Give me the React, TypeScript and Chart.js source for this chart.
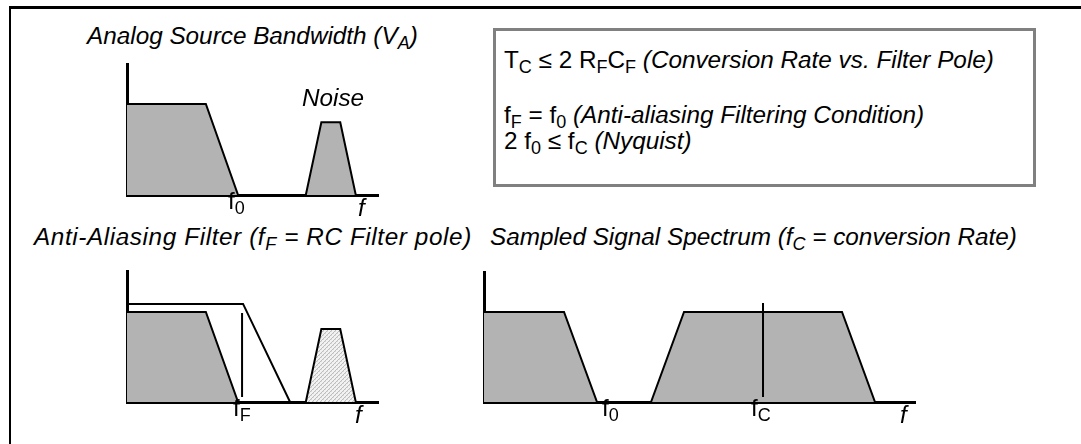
import React, { useEffect, useRef } from "react";
import { Chart, registerables } from "chart.js";

Chart.register(...registerables);

// ---------------- data (x in multiples of f0, y relative to signal amplitude) ----------------
// Panel 1 – Analog source bandwidth
const sourceSignalX = [0, 0.71, 1];
const sourceSignalY = [1, 1, 0];
const sourceNoiseX = [1.61, 1.75, 1.92, 2.06];
const sourceNoiseY = [0, 0.8, 0.8, 0];
const sourceAxisMax = [2.26, 1.44];

// Panel 2 – Anti-aliasing filter
const filterResponseX = [0, 1.045, 1.468];
const filterResponseY = [1.09, 1.09, 0];
const filteredSignalX = [0, 0.71, 1];
const filteredSignalY = [1, 1, 0];
const filterPoleX = [1.036, 1.036];
const filterPoleY = [0.99, 0.056];
const filteredNoiseX = [1.61, 1.75, 1.92, 2.06];
const filteredNoiseY = [0, 0.81, 0.81, 0];
const filterAxisMax = [2.26, 1.456];

// Panel 3 – Sampled signal spectrum
const sampledBaseX = [0, 0.708, 1];
const sampledBaseY = [1, 1, 0];
const sampledImageX = [1.478, 1.77, 3.168, 3.46];
const sampledImageY = [0, 1, 1, 0];
const conversionRateX = [2.469, 2.469];
const conversionRateY = [1.1, 0.056];
const sampledAxisMax = [3.814, 1.444];

// ---------------- helpers ----------------
const FONT = '"Liberation Sans", Arial, Helvetica, sans-serif';
const FONT_SIZE = 24.3;
const FILL = "#b3b3b3";
const PAD = 12;

type Kind = "fill" | "hatch" | "line";
type Series = { xs: number[]; ys: number[]; kind: Kind };

const pts = (xs: number[], ys: number[]) => xs.map((x, i) => ({ x, y: ys[i] }));

function makeHatch(): CanvasPattern | string {
  const c = document.createElement("canvas");
  c.width = 4;
  c.height = 4;
  const g = c.getContext("2d");
  if (!g) return "#d8d8d8";
  g.fillStyle = "#f2f2f2";
  g.fillRect(0, 0, 4, 4);
  g.fillStyle = "#bdbdbd";
  for (let i = 0; i < 4; i++) g.fillRect(i, 3 - i, 1, 1);
  g.fillStyle = "#dadada";
  g.fillRect(0, 0, 1, 1);
  g.fillRect(2, 2, 1, 1);
  return g.createPattern(c, "repeat") || "#d8d8d8";
}

function Panel(props: {
  left: number;
  top: number;
  width: number;
  height: number;
  axisMax: number[];
  series: Series[];
}) {
  const ref = useRef<HTMLCanvasElement>(null);
  const { left, top, width, height, axisMax, series } = props;
  useEffect(() => {
    if (!ref.current) return;
    const hatch = makeHatch();
    const chart = new Chart(ref.current, {
      type: "scatter",
      data: {
        datasets: series.map((s) => ({
          data: pts(s.xs, s.ys),
          showLine: true,
          tension: 0,
          borderColor: "#000",
          borderWidth: 2,
          borderJoinStyle: "miter" as const,
          backgroundColor: s.kind === "hatch" ? hatch : FILL,
          fill: s.kind === "line" ? false : "origin",
          pointRadius: 0,
          pointHoverRadius: 0,
          order: s.kind === "line" ? 0 : 1,
        })),
      },
      options: {
        responsive: false,
        animation: false,
        events: [],
        layout: { padding: PAD },
        plugins: {
          legend: { display: false },
          tooltip: { enabled: false },
          title: { display: false },
        },
        scales: {
          x: {
            type: "linear",
            min: 0,
            max: axisMax[0],
            z: 1,
            grid: { display: false, drawTicks: false },
            ticks: { display: false },
            border: { display: true, width: 3, color: "#000" },
          },
          y: {
            type: "linear",
            min: 0,
            max: axisMax[1],
            z: 1,
            grid: { display: false, drawTicks: false },
            ticks: { display: false },
            border: { display: true, width: 3, color: "#000" },
          },
        },
      },
    });
    return () => chart.destroy();
  }, []);
  return (
    <canvas
      ref={ref}
      width={width + 2 * PAD}
      height={height + 2 * PAD}
      style={{
        position: "absolute",
        left: left - PAD,
        top: top - PAD,
        width: width + 2 * PAD,
        height: height + 2 * PAD,
      }}
    />
  );
}

function Txt(props: {
  x: number;
  baseline: number;
  italic?: boolean;
  spacing?: number;
  children: React.ReactNode;
}) {
  return (
    <div
      style={{
        position: "absolute",
        left: props.x,
        top: props.baseline - 0.8465 * FONT_SIZE,
        fontFamily: FONT,
        fontSize: FONT_SIZE,
        fontStyle: props.italic ? "italic" : "normal",
        lineHeight: `${FONT_SIZE}px`,
        letterSpacing: props.spacing ? `${props.spacing}px` : "normal",
        whiteSpace: "nowrap",
        color: "#000",
      }}
    >
      {props.children}
    </div>
  );
}

function Sub(props: { children: React.ReactNode }) {
  return (
    <span style={{ fontSize: 18, lineHeight: "18px", verticalAlign: "-5px" }}>{props.children}</span>
  );
}

export default function App() {
  return (
    <div
      style={{
        position: "absolute",
        left: 0,
        top: 0,
        width: 1081,
        height: 444,
        overflow: "hidden",
        background: "#fff",
      }}
    >
      {/* outer frame */}
      <div
        style={{
          position: "absolute",
          left: 9,
          top: 6,
          width: 1100,
          height: 460,
          borderLeft: "2px solid #000",
          borderTop: "3px solid #000",
        }}
      />

      {/* Panel 1 */}
      <Txt x={87} baseline={45} italic>
        Analog Source Bandwidth (V<Sub>A</Sub>)
      </Txt>
      <Panel
        left={127}
        top={64}
        width={251}
        height={131}
        axisMax={sourceAxisMax}
        series={[
          { xs: sourceSignalX, ys: sourceSignalY, kind: "fill" },
          { xs: sourceNoiseX, ys: sourceNoiseY, kind: "fill" },
        ]}
      />
      <Txt x={302} baseline={107} italic>
        Noise
      </Txt>
      <Txt x={228} baseline={210}>
        f<Sub>0</Sub>
      </Txt>
      <Txt x={358} baseline={217} italic>
        f
      </Txt>

      {/* Conditions box */}
      <div
        style={{
          position: "absolute",
          left: 493,
          top: 28,
          width: 537,
          height: 153,
          border: "3px solid #808080",
        }}
      />
      <Txt x={504} baseline={69}>
        T<Sub>C</Sub> ≤ 2 R<Sub>F</Sub>C<Sub>F</Sub> <i>(Conversion Rate vs. Filter Pole)</i>
      </Txt>
      <Txt x={504} baseline={124}>
        f<Sub>F</Sub> = f<Sub>0</Sub> <i>(Anti-aliasing Filtering Condition)</i>
      </Txt>
      <Txt x={504} baseline={150}>
        2 f<Sub>0</Sub> ≤ f<Sub>C</Sub> <i>(Nyquist)</i>
      </Txt>

      {/* Panel 2 */}
      <Txt x={34} baseline={246} italic spacing={0.6}>
        Anti-Aliasing Filter (f<Sub>F</Sub> = RC Filter pole)
      </Txt>
      <Panel
        left={127}
        top={271}
        width={251}
        height={131}
        axisMax={filterAxisMax}
        series={[
          { xs: filterPoleX, ys: filterPoleY, kind: "line" },
          { xs: filterResponseX, ys: filterResponseY, kind: "line" },
          { xs: filteredSignalX, ys: filteredSignalY, kind: "fill" },
          { xs: filteredNoiseX, ys: filteredNoiseY, kind: "hatch" },
        ]}
      />
      <Txt x={233} baseline={417}>
        f<Sub>F</Sub>
      </Txt>
      <Txt x={355} baseline={424} italic>
        f
      </Txt>

      {/* Panel 3 */}
      <Txt x={490} baseline={246} italic>
        Sampled Signal Spectrum (f<Sub>C</Sub> = conversion Rate)
      </Txt>
      <Panel
        left={484}
        top={272}
        width={431}
        height={130}
        axisMax={sampledAxisMax}
        series={[
          { xs: conversionRateX, ys: conversionRateY, kind: "line" },
          { xs: sampledBaseX, ys: sampledBaseY, kind: "fill" },
          { xs: sampledImageX, ys: sampledImageY, kind: "fill" },
        ]}
      />
      <Txt x={602} baseline={417}>
        f<Sub>0</Sub>
      </Txt>
      <Txt x={751} baseline={417}>
        f<Sub>C</Sub>
      </Txt>
      <Txt x={900} baseline={424} italic>
        f
      </Txt>
    </div>
  );
}
